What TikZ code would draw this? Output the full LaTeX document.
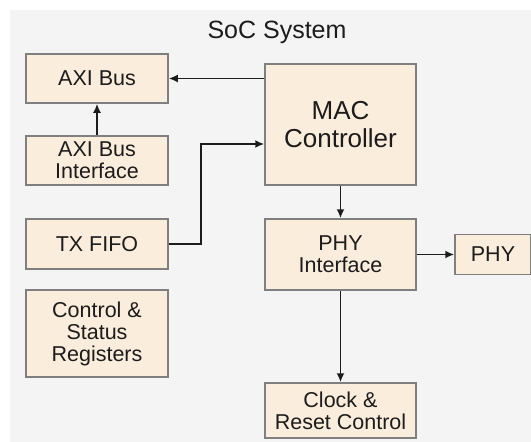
\documentclass[tikz,border=0pt]{standalone}
\usepackage{fontspec}
\setmainfont{Liberation Sans}
\usepackage{xcolor}
\usepackage{tikz}
\usetikzlibrary{arrows.meta}
\usetikzlibrary{shapes}

\definecolor{bggray}{HTML}{F4F4F4}
\definecolor{boxfill}{HTML}{FAEDDC}
\definecolor{boxline}{HTML}{7F7F7F}
\definecolor{inkcol}{HTML}{1C1C1C}

\begin{document}
\begin{tikzpicture}[x=1pt, y=-1pt,
        block/.style = {draw = boxline, line width = 1.5pt, fill = boxfill,
            text = inkcol, align = center, inner sep = 0pt,
            font = \fontsize{21.5}{22}\selectfont},
        bigblock/.style = {block, font = \fontsize{26}{28}\selectfont},
        link/.style = {draw = inkcol, line width = 1.8pt,
            -{Latex[length = 9pt, width = 8pt]}}]
        \useasboundingbox (0, 0) rectangle (531, 442);
        \fill [white] (0, 0) rectangle (531, 442);
        \fill [bggray] (10, 10) rectangle (531, 442);

        \node [text = inkcol, font = \fontsize{25}{28}\selectfont] (title)
            at (277, 32) {SoC System};

        \node [block, minimum width = 142pt, minimum height = 49pt] (axibus)
            at (97, 78.5) {AXI Bus};
        \node [block, minimum width = 142pt, minimum height = 49pt] (axiif)
            at (97, 160.5) {AXI Bus\\Interface};
        \node [block, minimum width = 142pt, minimum height = 50pt] (txfifo)
            at (97, 244) {TX FIFO};
        \node [block, minimum width = 142pt, minimum height = 87pt] (csr)
            at (97, 333.5) {Control \&\\Status\\Registers};

        \node [bigblock, minimum width = 151pt, minimum height = 121pt] (mac)
            at (340.5, 124.5) {MAC\\Controller};
        \node [block, minimum width = 151pt, minimum height = 71pt] (phyif)
            at (340.5, 254.5) {PHY\\Interface};
        \node [block, minimum width = 76pt, minimum height = 40pt] (phy)
            at (493, 254.5) {PHY};
        \node [block, minimum width = 151pt, minimum height = 55pt] (clock)
            at (340.5, 410.5) {Clock \&\\Reset Control};

        \draw [link] (mac.west |- axibus.east) -- (axibus.east);
        \draw [link] (axiif.north) -- (axibus.south);
        \draw [link] (txfifo.east) -- ++(32, 0) |- ([yshift = -19.5pt]mac.west);
        \draw [link] (mac.south) -- (phyif.north);
        \draw [link] (phyif.east) -- (phy.west);
        \draw [link] (phyif.south) -- (clock.north);
    \end{tikzpicture}
\end{document}
